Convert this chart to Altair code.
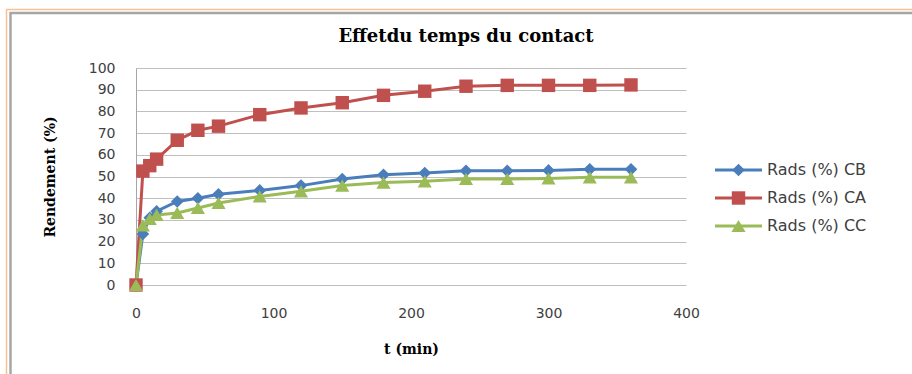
import altair as alt
import pandas as pd

# ---- data ----
t_min = [0, 5, 10, 15, 30, 45, 60, 90, 120, 150, 180, 210, 240, 270, 300, 330, 360]
rads_cb = [0, 23.5, 31, 34, 38.5, 40, 41.8, 43.6, 45.8, 48.8, 50.8, 51.6, 52.6, 52.6, 52.8, 53.3, 53.3]
rads_ca = [0, 52.5, 55, 58, 66.7, 71.3, 73.2, 78.5, 81.6, 84, 87.4, 89.3, 91.6, 92, 92, 92, 92.2]
rads_cc = [0, 27.5, 30.5, 32.3, 33.2, 35.5, 37.8, 40.8, 43.2, 45.8, 47.2, 47.8, 48.9, 48.9, 49.1, 49.6, 49.6]
series = ["Rads (%) CB", "Rads (%) CA", "Rads (%) CC"]
x_ticks = [0, 100, 200, 300, 400]
y_ticks = list(range(0, 101, 10))

colors = ["#4A7EBB", "#C0504D", "#9BBB59"]
shapes = ["diamond", "square", "triangle-up"]
sizes = [160, 200, 200]

rows = []
for name, vals in zip(series, [rads_cb, rads_ca, rads_cc]):
    for ti, v in zip(t_min, vals):
        rows.append({"t": ti, "v": v, "s": name})
df = pd.DataFrame(rows)

W, H = 550, 217
OX, OY = 136, 68

color = alt.Color("s:N", scale=alt.Scale(domain=series, range=colors), legend=None)
shape = alt.Shape("s:N", scale=alt.Scale(domain=series, range=shapes), legend=None)
size = alt.Size("s:N", scale=alt.Scale(domain=series, range=sizes), legend=None)

xaxis = alt.Axis(values=x_ticks, grid=False, ticks=False, domain=False,
                 labelFlush=False, labelOverlap=False,
                 labelPadding=21, labelFont="DejaVu Sans", labelFontSize=14,
                 labelColor="#404040", title="t (min)", titleFont="DejaVu Serif",
                 titleFontSize=14, titleFontWeight="bold", titleColor="#000000",
                 titlePadding=22)
yaxis = alt.Axis(values=y_ticks, tickCount=11, grid=True, gridColor="#BFBFBF", gridWidth=1,
                 ticks=False, domain=True, domainColor="#A6A6A6", domainWidth=1,
                 labelFlush=False, labelOverlap=False,
                 labelPadding=21, labelFont="DejaVu Sans", labelFontSize=14,
                 labelColor="#404040", title="Rendement (%)",
                 titleFont="DejaVu Serif", titleFontSize=14,
                 titleFontWeight="bold", titleColor="#000000", titlePadding=31)
xenc = alt.X("t:Q", scale=alt.Scale(domain=[0, 400], nice=False), axis=xaxis)
yenc = alt.Y("v:Q", scale=alt.Scale(domain=[0, 100], nice=False), axis=yaxis)

base = alt.Chart(df).encode(x=xenc, y=yenc, color=color)
lines = base.mark_line(strokeWidth=3).encode(detail="s:N")
points = base.mark_point(filled=True, opacity=1).encode(shape=shape, size=size)
data_layer = alt.layer(lines, points)

one = pd.DataFrame({"a": [0]})
frame = alt.layer(
    alt.Chart(one).mark_rule(color="#FAC090", strokeWidth=1.5).encode(
        x=alt.value(6 - OX), x2=alt.value(912 - OX), y=alt.value(9.5 - OY)),
    alt.Chart(one).mark_rule(color="#FAC090", strokeWidth=1.5).encode(
        x=alt.value(6.5 - OX), y=alt.value(9 - OY), y2=alt.value(374 - OY)),
    alt.Chart(one).mark_rule(color="#A6A6A6", strokeWidth=2.5).encode(
        x=alt.value(10 - OX), x2=alt.value(912 - OX), y=alt.value(13 - OY)),
    alt.Chart(one).mark_rule(color="#A6A6A6", strokeWidth=2.5).encode(
        x=alt.value(10.5 - OX), y=alt.value(12 - OY), y2=alt.value(374 - OY)),
)

title = alt.Chart(pd.DataFrame({"title": ["Effetdu temps du contact"]})).mark_text(
    font="DejaVu Serif", fontSize=18, fontWeight="bold", color="#000000",
    align="center", baseline="middle").encode(
    x=alt.value(466 - OX), y=alt.value(37 - OY), text="title:N")

leg_df = pd.DataFrame({"s": series})
ly = alt.Y("s:N", scale=alt.Scale(type="point", domain=series, range=[102, 158], padding=0),
           axis=None)
leg_line = alt.Chart(leg_df).mark_rule(strokeWidth=3).encode(
    x=alt.value(715 - OX), x2=alt.value(762 - OX), y=ly, color=color)
leg_pt = alt.Chart(leg_df).mark_point(filled=True, opacity=1).encode(
    x=alt.value(738.5 - OX), y=ly, color=color, shape=shape, size=size)
leg_txt = alt.Chart(leg_df).mark_text(align="left", baseline="middle", font="DejaVu Sans",
                                       fontSize=16, color="#404040").encode(
    x=alt.value(767 - OX), y=ly, text="s:N")
legend = alt.layer(leg_line, leg_pt, leg_txt)

chart = alt.layer(frame, title, data_layer, legend).resolve_scale(y="independent").properties(
    width=W, height=H,
    autosize=alt.AutoSizeParams(type="none"),
    padding={"left": OX, "top": OY, "right": 912 - OX - W, "bottom": 374 - OY - H},
    background="#FFFFFF",
).configure_view(stroke=None)

chart.save("out.html", embed_options={"renderer": "svg", "actions": False})
